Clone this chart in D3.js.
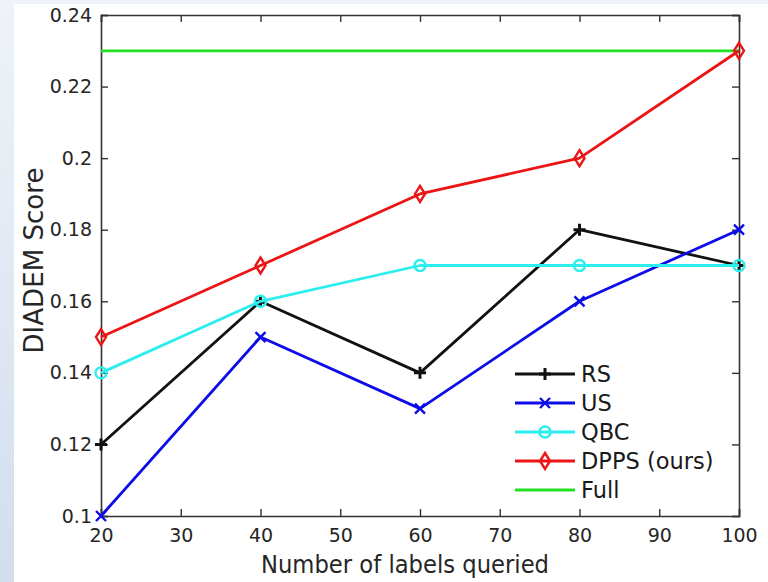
<!DOCTYPE html>
<html><head><meta charset="utf-8">
<script src="https://cdn.jsdelivr.net/npm/d3@7"></script>
<style>body{margin:0;padding:0;overflow:hidden;} svg{display:block;}</style>
</head><body>
<script>
const xValues = [20, 40, 60, 80, 100];
const rsValues = [0.12, 0.16, 0.14, 0.18, 0.17];
const usValues = [0.10, 0.15, 0.13, 0.16, 0.18];
const qbcValues = [0.14, 0.16, 0.17, 0.17, 0.17];
const dppsValues = [0.15, 0.17, 0.19, 0.20, 0.23];
const fullValues = [0.23, 0.23, 0.23, 0.23, 0.23];
const seriesNames = ["RS", "US", "QBC", "DPPS (ours)", "Full"];
const xTicks = [20, 30, 40, 50, 60, 70, 80, 90, 100];
const yTicks = [0.1, 0.12, 0.14, 0.16, 0.18, 0.2, 0.22, 0.24];
const xTitle = "Number of labels queried";
const yTitle = "DIADEM Score";

const W = 768, H = 582;
const L = 101, R = 739, T = 15, B = 516;
const font = "'DejaVu Sans', sans-serif";

const svg = d3.select("body").append("svg").attr("width", W).attr("height", H);
const defs = svg.append("defs");
const g1 = defs.append("linearGradient").attr("id", "bg").attr("x1", 0).attr("y1", 0).attr("x2", 0).attr("y2", 1);
g1.append("stop").attr("offset", "0%").attr("stop-color", "#eef3f9");
g1.append("stop").attr("offset", "100%").attr("stop-color", "#d2deed");
svg.append("rect").attr("width", W).attr("height", H).attr("fill", "url(#bg)");
svg.append("rect").attr("x", 0).attr("y", 0).attr("width", W).attr("height", 4).attr("fill", "#eff3f8");
svg.append("rect").attr("x", 14).attr("y", 4).attr("width", W - 14).attr("height", H - 4).attr("fill", "#ffffff");

const x = d3.scaleLinear().domain([20, 100]).range([L, R]);
const y = d3.scaleLinear().domain([0.1, 0.24]).range([B, T]);

const axisColor = "#333";
const tickLen = 7;
const ax = svg.append("g").attr("transform", `translate(0,${B})`)
  .call(d3.axisBottom(x).tickValues(xTicks).tickSize(-tickLen).tickPadding(13).tickFormat(d3.format("d")));
const axTop = svg.append("g").attr("transform", `translate(0,${T})`)
  .call(d3.axisTop(x).tickValues(xTicks).tickSize(-tickLen).tickFormat(""));
const ay = svg.append("g").attr("transform", `translate(${L},0)`)
  .call(d3.axisLeft(y).tickValues(yTicks).tickSize(-tickLen).tickPadding(9).tickFormat(d => d3.format("")(+d.toFixed(2))));
const ayR = svg.append("g").attr("transform", `translate(${R},0)`)
  .call(d3.axisRight(y).tickValues(yTicks).tickSize(-tickLen).tickFormat(""));
[ax, axTop, ay, ayR].forEach(a => {
  a.select(".domain").attr("stroke", axisColor).attr("stroke-width", 1.6);
  a.selectAll(".tick line").attr("stroke", axisColor).attr("stroke-width", 1.4);
  a.selectAll("text").attr("fill", "#262626").attr("font-family", font).attr("font-size", 19);
});

const series = [
  {name: seriesNames[4], vals: fullValues, color: "#22e022", marker: "none"},
  {name: seriesNames[0], vals: rsValues, color: "#111111", marker: "plus"},
  {name: seriesNames[1], vals: usValues, color: "#0c0ce8", marker: "cross"},
  {name: seriesNames[2], vals: qbcValues, color: "#2ceeee", marker: "circle"},
  {name: seriesNames[3], vals: dppsValues, color: "#ec1414", marker: "diamond"}
];

function drawMarker(g, type, cx, cy, color) {
  if (type === "plus") {
    g.append("path").attr("d", `M${cx-6},${cy}H${cx+6}M${cx},${cy-6}V${cy+6}`)
      .attr("stroke", color).attr("stroke-width", 3).attr("fill", "none");
  } else if (type === "cross") {
    g.append("path").attr("d", `M${cx-5},${cy-5}L${cx+5},${cy+5}M${cx-5},${cy+5}L${cx+5},${cy-5}`)
      .attr("stroke", color).attr("stroke-width", 2.4).attr("fill", "none");
  } else if (type === "circle") {
    g.append("circle").attr("cx", cx).attr("cy", cy).attr("r", 5.5)
      .attr("stroke", color).attr("stroke-width", 2.4).attr("fill", "none");
  } else if (type === "diamond") {
    g.append("path").attr("d", `M${cx},${cy-8}L${cx+5},${cy}L${cx},${cy+8}L${cx-5},${cy}Z`)
      .attr("stroke", color).attr("stroke-width", 2.4).attr("fill", "none");
  }
}

const line = d3.line().x(d => x(d[0])).y(d => y(d[1]));
series.forEach(s => {
  const pts = xValues.map((v, i) => [v, s.vals[i]]);
  const g = svg.append("g");
  g.append("path").attr("d", line(pts)).attr("fill", "none")
    .attr("stroke", s.color).attr("stroke-width", 2.8).attr("stroke-linejoin", "round");
  pts.forEach(p => drawMarker(g, s.marker, x(p[0]), y(p[1]), s.color));
});

const legendOrder = [series[1], series[2], series[3], series[4], series[0]];
const lg = svg.append("g");
legendOrder.forEach((s, i) => {
  const ly = 374 + i * 29;
  lg.append("line").attr("x1", 515).attr("x2", 575).attr("y1", ly).attr("y2", ly)
    .attr("stroke", s.color).attr("stroke-width", 2.8);
  drawMarker(lg, s.marker, 545, ly, s.color);
  lg.append("text").attr("x", 581).attr("y", ly).attr("dy", "0.36em")
    .attr("font-family", font).attr("font-size", 22.5).attr("fill", "#1a1a1a").text(s.name);
});

svg.append("text").attr("x", 405).attr("y", 573).attr("text-anchor", "middle")
  .attr("font-family", font).attr("font-size", 24.5).attr("fill", "#262626")
  .attr("textLength", 288).attr("lengthAdjust", "spacingAndGlyphs").text(xTitle);
svg.append("text").attr("transform", `translate(43,260.5) rotate(-90)`).attr("text-anchor", "middle")
  .attr("font-family", font).attr("font-size", 26).attr("fill", "#262626")
  .attr("textLength", 186).attr("lengthAdjust", "spacingAndGlyphs").text(yTitle);
</script>
</body></html>
